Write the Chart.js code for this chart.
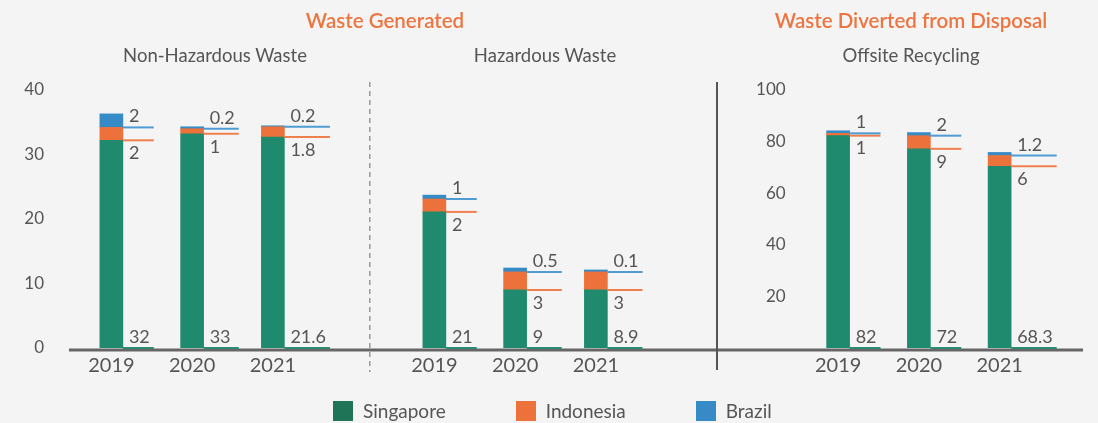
<!DOCTYPE html>
<html>
<head>
<meta charset="utf-8">
<script src="https://cdn.jsdelivr.net/npm/chart.js@4"></script>
<style>
  html, body { margin: 0; padding: 0; background: #f4f4f4; }
  #wrap { position: relative; width: 1098px; height: 423px; font-family: Lato, sans-serif; }
  .head { position: absolute; transform: translateX(-50%); white-space: nowrap; line-height: 22px; }
  .main { top: 9px; font-size: 20.5px; font-weight: 600; color: #ee7440; }
  .sub { top: 44px; font-size: 18.5px; color: #555; }
  #legend { position: absolute; left: 333px; top: 401px; display: flex; gap: 70px; }
  #legend div { display: flex; align-items: center; font-size: 19px; color: #555; line-height: 20px; }
  #legend span { display: inline-block; width: 20px; height: 20px; margin-right: 10px; }
</style>
</head>
<body>
<div id="wrap">
  <canvas id="chart"></canvas>
  <div class="head main" style="left:385px">Waste Generated</div>
  <div class="head main" style="left:911px">Waste Diverted from Disposal</div>
  <div class="head sub" style="left:215px">Non-Hazardous Waste</div>
  <div class="head sub" style="left:545px">Hazardous Waste</div>
  <div class="head sub" style="left:911px">Offsite Recycling</div>
  <div id="legend"></div>
</div>
<script>
const years = ["2019", "2020", "2021"]
const countries = ["Singapore", "Indonesia", "Brazil"]

// bar heights as drawn (thousand tonnes)
const nonHazSG = [32.2, 33.2, 32.7]
const nonHazID = [2.0, 0.8, 1.6]
const nonHazBR = [2.1, 0.3, 0.15]
const hazSG = [21.1, 9.0, 9.0]
const hazID = [2.0, 2.8, 2.8]
const hazBR = [0.6, 0.6, 0.3]
const recSG = [82.3, 77.2, 70.4]
const recID = [0.9, 5.1, 4.2]
const recBR = [1.0, 1.2, 1.2]

// values printed next to the bars
const nonHazSGText = ["32", "33", "21.6"]
const nonHazIDText = ["2", "1", "1.8"]
const nonHazBRText = ["2", "0.2", "0.2"]
const hazSGText = ["21", "9", "8.9"]
const hazIDText = ["2", "3", "3"]
const hazBRText = ["1", "0.5", "0.1"]
const recSGText = ["82", "72", "68.3"]
const recIDText = ["1", "9", "6"]
const recBRText = ["1", "2", "1.2"]

const leftTicks = [0, 10, 20, 30, 40]
const rightTicks = [20, 40, 60, 80, 100]

const barColors = ["#1f8a6e", "#ec713a", "#368ac6"]
const lineColors = ["#2a8c70", "#ef7f4c", "#4f9bd4"]
const legendColors = ["#1f7356", "#ec713a", "#368ac6"]

// slots on the category axis: 3 bars, gap, 3 bars, gap, gap, 3 bars
const nonHazSlots = [0, 1, 2], hazSlots = [4, 5, 6], recSlots = [9, 10, 11]
const slotCount = 12
const xLabels = Array(slotCount).fill("")
nonHazSlots.concat(hazSlots, recSlots).forEach((s, i) => xLabels[s] = years[i % 3])

function place(pairs){
    const out = Array(slotCount).fill(null)
    pairs.forEach(([slots, vals]) => slots.forEach((s, i) => out[s] = vals[i]))
    return out
}

const leftSets = [
    [nonHazSG, hazSG, nonHazSGText, hazSGText],
    [nonHazID, hazID, nonHazIDText, hazIDText],
    [nonHazBR, hazBR, nonHazBRText, hazBRText]
]
const rightSets = [
    [recSG, recSGText], [recID, recIDText], [recBR, recBRText]
]

const datasets = []
leftSets.forEach((s, i) => datasets.push({
    label: countries[i],
    data: place([[nonHazSlots, s[0]], [hazSlots, s[1]]]),
    texts: place([[nonHazSlots, s[2]], [hazSlots, s[3]]]),
    yAxisID: "y", stack: "s",
    backgroundColor: barColors[i], lineColor: lineColors[i], below: i === 1
}))
rightSets.forEach((s, i) => datasets.push({
    label: countries[i],
    data: place([[recSlots, s[0]]]),
    texts: place([[recSlots, s[1]]]),
    yAxisID: "y2", stack: "s",
    backgroundColor: barColors[i], lineColor: lineColors[i], below: i === 1
}))

const leaders = {
    id: "leaders",
    afterDatasetsDraw(chart){
        const ctx = chart.ctx
        ctx.save()
        ctx.font = "18px Lato"
        const metas = chart.getSortedVisibleDatasetMetas()
        for(let i = 0; i < slotCount; i++){
            const items = metas
                .map(m => ({ds: chart.data.datasets[m.index], bar: m.data[i]}))
                .filter(o => o.ds.data[i] !== null)
            if(!items.length) continue
            const w = Math.max(...items.map(o => ctx.measureText(o.ds.texts[i]).width))
            const len = Math.max(26, w + 10)
            items.forEach(o => {
                const {x, width, base} = o.bar.getProps(["x", "width", "base"], true)
                const x0 = x + width / 2
                ctx.strokeStyle = o.ds.lineColor
                ctx.lineWidth = 2
                ctx.beginPath()
                ctx.moveTo(x0, base)
                ctx.lineTo(x0 + len, base)
                ctx.stroke()
                ctx.fillStyle = "#555"
                if(o.ds.below){
                    ctx.textBaseline = "top"
                    ctx.fillText(o.ds.texts[i], x0 + 6, base + 4)
                }else{
                    ctx.textBaseline = "alphabetic"
                    ctx.fillText(o.ds.texts[i], x0 + 6, base - 5)
                }
            })
        }
        ctx.restore()
    }
}

const frame = {
    id: "frame",
    beforeDatasetsDraw(chart){
        const {ctx, chartArea, scales: {x}} = chart
        ctx.save()
        // baseline
        ctx.strokeStyle = "#666"
        ctx.lineWidth = 3
        ctx.beginPath()
        ctx.moveTo(chartArea.left - 2, chartArea.bottom + 2)
        ctx.lineTo(chart.width - 15, chartArea.bottom + 2)
        ctx.stroke()
        // dashed divider between the two waste types
        const xd = x.getPixelForValue(3.2)
        ctx.strokeStyle = "#999"
        ctx.lineWidth = 1.5
        ctx.setLineDash([5, 4])
        ctx.beginPath()
        ctx.moveTo(xd, 82)
        ctx.lineTo(xd, 372)
        ctx.stroke()
        // solid divider before recycling
        const xs = x.getPixelForValue(7.5)
        ctx.setLineDash([])
        ctx.strokeStyle = "#555"
        ctx.lineWidth = 2
        ctx.beginPath()
        ctx.moveTo(xs, 82)
        ctx.lineTo(xs, 370)
        ctx.stroke()
        ctx.restore()
    }
}

const htmlLegend = {
    id: "htmlLegend",
    afterUpdate(chart){
        const box = document.querySelector("#legend")
        box.innerHTML = ""
        Chart.defaults.plugins.legend.labels.generateLabels(chart)
            .filter(it => it.datasetIndex < countries.length)
            .forEach((it, i) => {
                const d = document.createElement("div")
                d.innerHTML = `<span style="background:${legendColors[i]}"></span>${it.text}`
                box.appendChild(d)
            })
    }
}

Chart.defaults.font.family = "Lato"
Chart.defaults.color = "#555"

new Chart(document.querySelector("#chart"), {
    type: "bar",
    data: {labels: xLabels, datasets: datasets},
    plugins: [frame, leaders, htmlLegend],
    options: {
        responsive: true,
        maintainAspectRatio: false,
        animation: false,
        barThickness: 23,
        layout: {padding: {top: 90, right: 58, bottom: 45, left: 0}},
        plugins: {
            legend: {display: false},
            tooltip: {enabled: false}
        },
        scales: {
            x: {
                stacked: true,
                grid: {display: false, drawTicks: false},
                border: {display: false},
                ticks: {font: {size: 20}, padding: 6, autoSkip: false, maxRotation: 0},
                afterFit: s => { s.height = 30 }
            },
            y: {
                stacked: true,
                min: 0, max: 40,
                afterBuildTicks: s => { s.ticks = leftTicks.map(v => ({value: v})) },
                grid: {display: false, drawTicks: false},
                border: {display: false},
                ticks: {font: {size: 17}, padding: 27},
                afterFit: s => { s.width = 71 }
            },
            y2: {
                axis: "y",
                stacked: true,
                min: 0, max: 100,
                position: {x: 8.35},
                afterBuildTicks: s => { s.ticks = rightTicks.map(v => ({value: v})) },
                grid: {display: false, drawTicks: false},
                border: {display: false},
                ticks: {font: {size: 17}}
            }
        }
    }
})
</script>
</body>
</html>
